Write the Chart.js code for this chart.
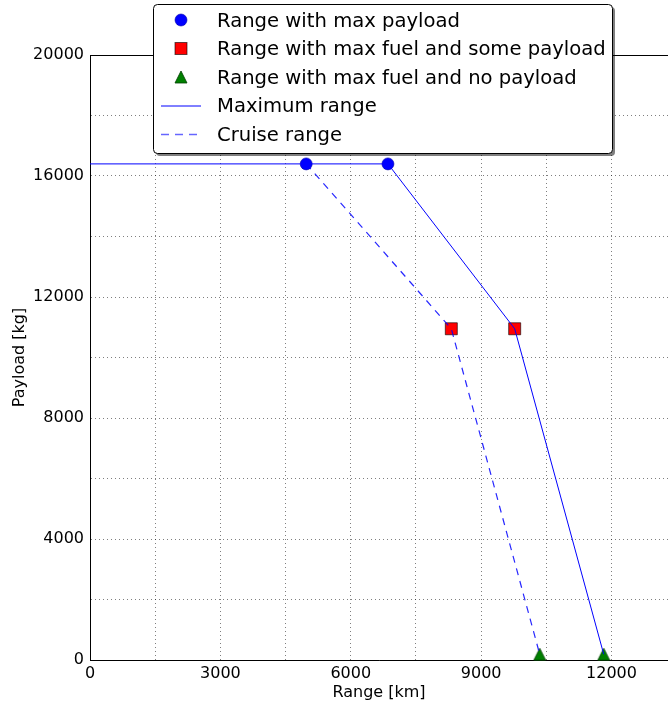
<!DOCTYPE html>
<html>
<head>
<meta charset="utf-8">
<script src="https://cdn.jsdelivr.net/npm/chart.js@4.4.1/dist/chart.umd.min.js"></script>
<style>
  html, body { margin: 0; padding: 0; background: #fff; }
</style>
</head>
<body>
<canvas id="myChart" width="668" height="702"></canvas>
<script>
// values (range in km, payload in kg)
const maxPayloadRange = [4975, 6856];
const maxPayloadLoad = [16400, 16400];
const maxFuelRange = [8314, 9772];
const maxFuelLoad = [10950, 10950];
const noPayloadRange = [10348, 11821];
const noPayloadLoad = [190, 190];

const maxRangeX = [0, 6856, 9772, 11821];
const maxRangeY = [16400, 16400, 10950, 190];
const cruiseX = [4975, 8314, 10348];
const cruiseY = [16400, 10950, 190];

// grid positions and which of them carry a label
const xGrid = [0, 1500, 3000, 4500, 6000, 7500, 9000, 10500, 12000];
const xLabels = [0, 3000, 6000, 9000, 12000];
const yGrid = [0, 2000, 4000, 6000, 8000, 10000, 12000, 14000, 16000, 18000, 20000];
const yLabels = [0, 4000, 8000, 12000, 16000, 20000];

const legendLabels = [
  "Range with max payload",
  "Range with max fuel and some payload",
  "Range with max fuel and no payload",
  "Maximum range",
  "Cruise range",
];

const FONT = "'DejaVu Sans', sans-serif";

const pts = (xs, ys) => xs.map((x, i) => ({ x: x, y: ys[i] }));

// matplotlib-like triangle marker
function triangleMarker() {
  const c = document.createElement("canvas");
  c.width = 14;
  c.height = 14;
  const g = c.getContext("2d");
  g.beginPath();
  g.moveTo(7, 1);
  g.lineTo(1, 13);
  g.lineTo(13, 13);
  g.closePath();
  g.fillStyle = "#008000";
  g.fill();
  g.strokeStyle = "#003f00";
  g.lineWidth = 0.8;
  g.stroke();
  return c;
}
const tri = triangleMarker();

const frame = {
  id: "frame",
  beforeDatasetsDraw(chart) {
    const { ctx, chartArea } = chart;
    ctx.save();
    ctx.strokeStyle = "#000";
    ctx.lineWidth = 1;
    ctx.beginPath();
    ctx.moveTo(chartArea.left, chartArea.top + 0.5);
    ctx.lineTo(chartArea.right, chartArea.top + 0.5);
    ctx.stroke();
    ctx.restore();
  },
};

const legendBox = {
  id: "legendBox",
  afterDraw(chart) {
    const ctx = chart.ctx;
    const x0 = 153, y0 = 4, w = 459, h = 149, r = 4;
    const box = (x, y) => {
      ctx.beginPath();
      ctx.moveTo(x + r, y);
      ctx.lineTo(x + w - r, y);
      ctx.quadraticCurveTo(x + w, y, x + w, y + r);
      ctx.lineTo(x + w, y + h - r);
      ctx.quadraticCurveTo(x + w, y + h, x + w - r, y + h);
      ctx.lineTo(x + r, y + h);
      ctx.quadraticCurveTo(x, y + h, x, y + h - r);
      ctx.lineTo(x, y + r);
      ctx.quadraticCurveTo(x, y, x + r, y);
      ctx.closePath();
    };
    ctx.save();
    box(x0 + 3, y0 + 3);
    ctx.fillStyle = "rgba(0,0,0,0.5)";
    ctx.fill();
    box(x0 + 0.5, y0 + 0.5);
    ctx.fillStyle = "#fff";
    ctx.fill();
    ctx.strokeStyle = "#000";
    ctx.lineWidth = 1;
    ctx.stroke();

    const rows = [20, 48.5, 77, 105.5, 134];
    const mx = 181;
    // circle
    ctx.beginPath();
    ctx.arc(mx, rows[0], 6, 0, Math.PI * 2);
    ctx.fillStyle = "#0000ff";
    ctx.fill();
    ctx.strokeStyle = "#0000aa";
    ctx.lineWidth = 0.6;
    ctx.stroke();
    // square
    ctx.fillStyle = "#ff0000";
    ctx.fillRect(mx - 6, rows[1] - 6, 12, 12);
    ctx.strokeStyle = "rgba(0,0,0,0.6)";
    ctx.lineWidth = 1;
    ctx.strokeRect(mx - 6, rows[1] - 6, 12, 12);
    // triangle
    ctx.drawImage(tri, mx - 7, rows[2] - 7);
    // solid line
    ctx.strokeStyle = "#0000ff";
    ctx.lineWidth = 1;
    ctx.beginPath();
    ctx.moveTo(161, rows[3] + 0.5);
    ctx.lineTo(201, rows[3] + 0.5);
    ctx.stroke();
    // dashed line
    ctx.strokeStyle = "rgba(0,0,255,0.6)";
    ctx.lineWidth = 1.5;
    ctx.setLineDash([8, 6]);
    ctx.beginPath();
    ctx.moveTo(161, rows[4] + 0.5);
    ctx.lineTo(199, rows[4] + 0.5);
    ctx.stroke();
    ctx.setLineDash([]);

    ctx.fillStyle = "#000";
    ctx.font = "19.6px " + FONT;
    ctx.textBaseline = "middle";
    ctx.textAlign = "left";
    legendLabels.forEach((t, i) => ctx.fillText(t, 217, rows[i] + 1.5));
    ctx.restore();
  },
};

const data = {
  datasets: [
    {
      label: legendLabels[3],
      data: pts(maxRangeX, maxRangeY),
      showLine: true,
      borderColor: "#0000ff",
      borderWidth: 1,
      pointRadius: 0,
      order: 0,
      clip: false,
    },
    {
      label: legendLabels[4],
      data: pts(cruiseX, cruiseY),
      showLine: true,
      borderColor: "rgba(0,0,255,0.85)",
      borderWidth: 1.2,
      borderDash: [7, 6],
      pointRadius: 0,
      order: 0,
      clip: false,
    },
    {
      label: legendLabels[0],
      data: pts(maxPayloadRange, maxPayloadLoad),
      pointStyle: "circle",
      pointRadius: 6,
      backgroundColor: "#0000ff",
      borderColor: "#0000aa",
      borderWidth: 0.6,
      order: 1,
      clip: false,
    },
    {
      label: legendLabels[1],
      data: pts(maxFuelRange, maxFuelLoad),
      pointStyle: "rect",
      pointRadius: 8.5,
      backgroundColor: "#ff0000",
      borderColor: "rgba(0,0,0,0.6)",
      borderWidth: 1,
      order: 1,
      clip: false,
    },
    {
      label: legendLabels[2],
      data: pts(noPayloadRange, noPayloadLoad),
      pointStyle: tri,
      pointRadius: 7,
      order: 1,
      clip: false,
    },
  ],
};

const config = {
  type: "scatter",
  data: data,
  plugins: [frame, legendBox],
  options: {
    responsive: false,
    animation: false,
    events: [],
    layout: { autoPadding: false, padding: { top: 55, left: 0, right: 0, bottom: 0 } },
    plugins: { legend: { display: false }, tooltip: { enabled: false } },
    scales: {
      x: {
        type: "linear",
        min: 0,
        max: 13300,
        afterBuildTicks: (s) => { s.ticks = xGrid.map((v) => ({ value: v })); },
        afterFit: (s) => {
          s.height = 42;
          s.paddingLeft = 0;
          s.paddingRight = 0;
        },
        ticks: {
          autoSkip: false,
          maxRotation: 0,
          minRotation: 0,
          padding: 4,
          color: "#000",
          font: { family: FONT, size: 16 },
          callback: (v) => (xLabels.includes(v) ? String(v) : ""),
        },
        grid: { color: "rgba(0,0,0,0.5)", lineWidth: 1, drawTicks: false },
        border: { display: true, color: "#000", width: 1, dash: [1, 3] },
        title: {
          display: true,
          text: "Range [km]",
          color: "#000",
          font: { family: FONT, size: 16 },
          padding: { top: 2, bottom: 0 },
        },
      },
      y: {
        type: "linear",
        min: 0,
        max: 20000,
        afterBuildTicks: (s) => { s.ticks = yGrid.map((v) => ({ value: v })); },
        afterFit: (s) => { s.width = 90; },
        ticks: {
          autoSkip: false,
          padding: 6,
          color: "#000",
          font: { family: FONT, size: 16 },
          callback: (v) => (yLabels.includes(v) ? String(v) : ""),
        },
        grid: { color: "rgba(0,0,0,0.5)", lineWidth: 1, drawTicks: false },
        border: { display: true, color: "#000", width: 1, dash: [1, 3] },
        title: {
          display: true,
          text: "Payload [kg]",
          color: "#000",
          font: { family: FONT, size: 16 },
          padding: { top: 10, bottom: 0 },
        },
      },
    },
  },
};

const myChart = new Chart(document.getElementById("myChart"), config);
</script>
</body>
</html>
